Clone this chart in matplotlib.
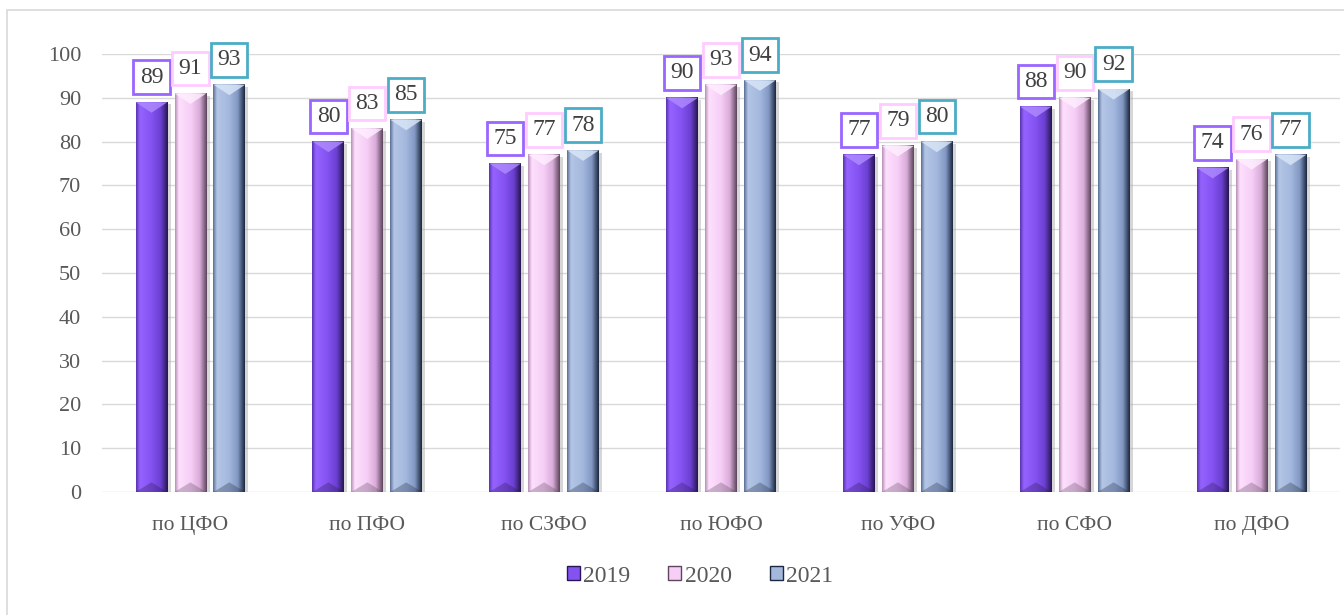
import numpy as np
import matplotlib.pyplot as plt
from matplotlib.colors import LinearSegmentedColormap
from matplotlib.patches import Patch, Rectangle, Polygon

# data
categories = ['по ЦФО', 'по ПФО', 'по СЗФО', 'по ЮФО', 'по УФО', 'по СФО', 'по ДФО']
years = ['2019', '2020', '2021']
v2019 = [89, 80, 75, 90, 77, 88, 74]
v2020 = [91, 83, 77, 93, 79, 90, 76]
v2021 = [93, 85, 78, 94, 80, 92, 77]
yticks = list(range(0, 101, 10))

series = [v2019, v2020, v2021]
# left edge -> highlight -> base -> dark right edge
shades = [
    ['#5a34b0', '#9563ff', '#8452f0', '#6a40d0', '#281650'],
    ['#b890b8', '#fde0fd', '#f6cef6', '#d8acd8', '#5e465e'],
    ['#5a7094', '#b4c6e6', '#a4b8de', '#8298c2', '#1c2840'],
]
stops = [0.0, 0.12, 0.5, 0.78, 1.0]
edge_cols = ['#9966ff', '#ffccff', '#4bacc6']
top_cols = ['#b08cff', '#fff0ff', '#dce8f8']

plt.rcParams['font.family'] = ['Liberation Serif', 'DejaVu Serif']

fig = plt.figure(figsize=(13.44, 6.15), dpi=100)
ax = fig.add_axes([102 / 1344, 123 / 615, 1238 / 1344, 438 / 615])

# outer frame
fig.patches.append(Rectangle((7 / 1344, -0.1), 1.2, 1 - 10 / 615 + 0.1,
                             transform=fig.transFigure, fill=False,
                             edgecolor='#d9d9d9', linewidth=1.2, zorder=0))

x = np.arange(len(categories))
width = 0.18
step = 0.22
grad = np.linspace(0, 1, 96).reshape(1, -1)

for i, vals in enumerate(series):
    cmap = LinearSegmentedColormap.from_list('c%d' % i, list(zip(stops, shades[i])))
    for j, v in enumerate(vals):
        xc = x[j] + (i - 1) * step
        x0, x1 = xc - width / 2, xc + width / 2
        # soft shadow right of the bar
        ax.add_patch(Rectangle((x1, 0), 0.018, v - 0.5, facecolor='#a6a6a6',
                               alpha=0.45, edgecolor='none', zorder=1.5))
        ax.imshow(grad, extent=[x0, x1, 0, v], aspect='auto', cmap=cmap,
                  origin='lower', zorder=2, interpolation='bilinear')
        # top bevel
        ax.add_patch(Polygon([[x0, v], [x1, v], [xc, v - 2.4]], closed=True,
                             facecolor=top_cols[i], edgecolor='none',
                             alpha=0.8, zorder=3))
        ax.add_patch(Polygon([[x0, 0], [x1, 0], [xc, 2.2]], closed=True,
                             facecolor=shades[i][4], edgecolor='none',
                             alpha=0.3, zorder=3))
        ax.annotate(str(v), (xc, v), xytext=(0, 18), textcoords='offset points',
                    ha='center', va='center', fontsize=17, color='#404040',
                    zorder=5,
                    bbox=dict(boxstyle='square,pad=0.27', facecolor='white',
                              edgecolor=edge_cols[i], linewidth=2))

ax.set_xlim(-0.5, len(categories) - 0.5)
ax.set_ylim(0, 100)
ax.set_yticks(yticks)
ax.set_xticks(x)
ax.set_xticklabels(categories)
ax.yaxis.grid(True, color='#d9d9d9', linewidth=1)
ax.set_axisbelow(True)
for s in ax.spines.values():
    s.set_visible(False)
ax.tick_params(axis='y', length=0, pad=15, labelsize=16, labelcolor='#595959')
ax.tick_params(axis='x', length=0, pad=17, labelsize=15.5, labelcolor='#595959')

handles = [Patch(facecolor=shades[i][2], edgecolor=shades[i][4], linewidth=1)
           for i in range(3)]
fig.legend(handles, years, loc='center', bbox_to_anchor=(700 / 1344, 1 - 576 / 615),
           ncol=3, frameon=False, fontsize=17, labelcolor='#595959',
           handlelength=0.55, handleheight=0.55, handletextpad=0.15,
           columnspacing=1.6)

fig.savefig('out.png', dpi=100)
